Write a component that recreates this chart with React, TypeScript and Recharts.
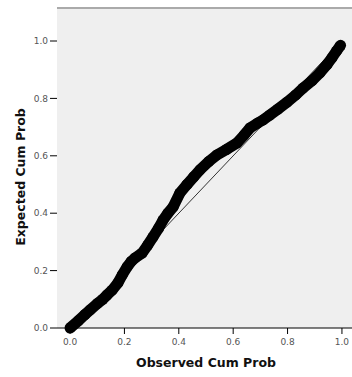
import {
  CartesianGrid,
  ReferenceLine,
  Scatter,
  ScatterChart,
  XAxis,
  YAxis,
} from "recharts";

const observed = [
  0.0, 0.03, 0.055, 0.074, 0.1, 0.12, 0.136, 0.155, 0.176, 0.192, 0.21, 0.225,
  0.239, 0.265, 0.285, 0.305, 0.325, 0.342, 0.36, 0.379, 0.404, 0.43, 0.455,
  0.478, 0.51, 0.54, 0.575, 0.614, 0.64, 0.662, 0.69, 0.71, 0.735, 0.765, 0.798,
  0.83, 0.857, 0.89, 0.919, 0.945, 0.963, 0.98, 0.995,
];
const expected = [
  0.0, 0.025, 0.047, 0.063, 0.085, 0.1, 0.115, 0.132, 0.157, 0.185, 0.213,
  0.232, 0.244, 0.261, 0.288, 0.317, 0.347, 0.376, 0.4, 0.422, 0.47, 0.5,
  0.527, 0.551, 0.58, 0.603, 0.622, 0.645, 0.672, 0.697, 0.714, 0.725, 0.742,
  0.763, 0.787, 0.812, 0.836, 0.862, 0.889, 0.918, 0.941, 0.965, 0.985,
];
const ticks = [0, 0.2, 0.4, 0.6, 0.8, 1.0];

const points = observed.map((x, i) => ({ x, y: expected[i] }));

const font = "'DejaVu Sans', Verdana, sans-serif";

export default function App() {
  return (
    <div style={{ position: "absolute", left: 0, top: 0, background: "#fff" }}>
      <ScatterChart
        width={352}
        height={377}
        margin={{ top: 8, right: 0, bottom: 0, left: 0 }}
      >
        <CartesianGrid
          horizontal={false}
          vertical={false}
          fill="#efefef"
          stroke="none"
        />
        <XAxis
          type="number"
          dataKey="x"
          domain={[-0.048, 1.037]}
          ticks={ticks}
          tickFormatter={(v: number) => v.toFixed(1)}
          height={49}
          tickSize={6}
          axisLine={{ stroke: "#000" }}
          tickLine={{ stroke: "#000" }}
          tick={{ fill: "#555", fontSize: 9, fontFamily: font, dy: 3 }}
          label={() => (
            <text
              x={206}
              y={367}
              textAnchor="middle"
              fontFamily={font}
              fontSize={12.5}
              fontWeight="bold"
              fill="#111"
            >
              Observed Cum Prob
            </text>
          )}
        />
        <YAxis
          type="number"
          dataKey="y"
          domain={[0, 1.115]}
          ticks={ticks}
          tickFormatter={(v: number) => v.toFixed(1)}
          width={57}
          tickSize={7}
          axisLine={false}
          tickLine={{ stroke: "#000" }}
          tick={{ fill: "#555", fontSize: 9, fontFamily: font }}
          label={() => (
            <text
              x={25}
              y={177}
              transform="rotate(-90 25 177)"
              textAnchor="middle"
              fontFamily={font}
              fontSize={12.5}
              fontWeight="bold"
              fill="#111"
            >
              Expected Cum Prob
            </text>
          )}
        />
        <ReferenceLine y={1.115} stroke="#aaa" strokeWidth={2} />
        <ReferenceLine
          segment={[
            { x: 0, y: 0 },
            { x: 1, y: 1 },
          ]}
          stroke="#333"
          strokeWidth={1}
        />
        <Scatter
          data={points}
          fill="#000"
          line={{ stroke: "#000", strokeWidth: 11 }}
          shape={(p: any) => (
            <circle cx={p.cx} cy={p.cy} r={5.5} fill="#000" />
          )}
          isAnimationActive={false}
        />
      </ScatterChart>
    </div>
  );
}
